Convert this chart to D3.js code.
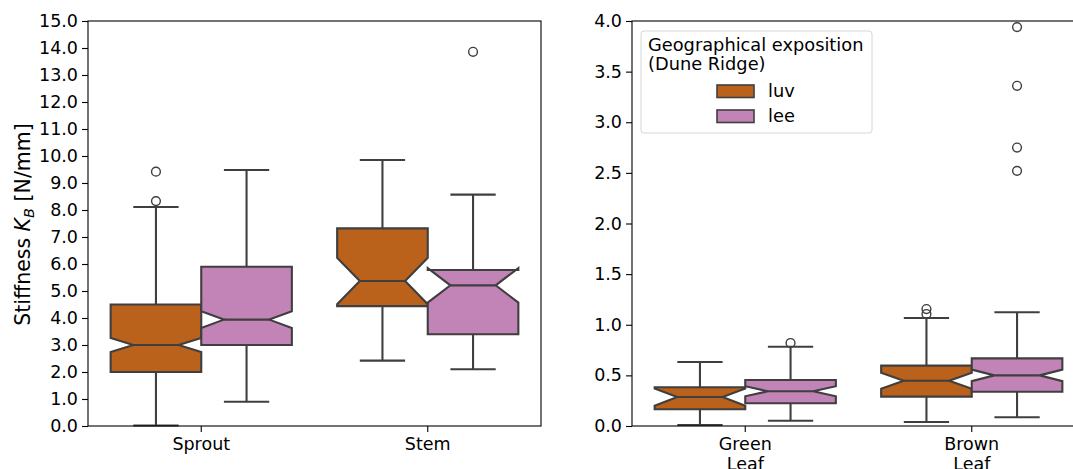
<!DOCTYPE html>
<html>
<head>
<meta charset="utf-8">
<script src="https://cdn.jsdelivr.net/npm/d3@7"></script>
<style>
  html, body { margin: 0; padding: 0; background: #fff; }
  svg { display: block; font-family: "DejaVu Sans", sans-serif; }
</style>
</head>
<body>
<div id="chart"></div>
<script>
"use strict";

/* ── Data ── */
const hues = ["luv", "lee"];
const hueColours = ["#ba611b", "#c283b6"];

// Left panel: Sprout / Stem
const leftCats    = ["Sprout", "Stem"];
const leftQ1      = [[2.00, 3.00], [4.44, 3.40]];
const leftMedian  = [[3.00, 3.94], [5.37, 5.21]];
const leftQ3      = [[4.50, 5.90], [7.32, 5.78]];
const leftNotch   = [[0.26, 0.31], [0.86, 0.64]];   // half notch size
const leftWhLo    = [[0.02, 0.90], [2.42, 2.10]];
const leftWhHi    = [[8.11, 9.48], [9.85, 8.57]];
const leftFliers  = [[[9.42, 8.33], []], [[], [13.86]]];
const leftTicks   = d3.range(0, 15.5, 1);

// Right panel: Green Leaf / Brown Leaf
const rightCats   = ["Green\nLeaf", "Brown\nLeaf"];
const rightQ1     = [[0.165, 0.224], [0.290, 0.339]];
const rightMedian = [[0.286, 0.343], [0.447, 0.500]];
const rightQ3     = [[0.382, 0.454], [0.596, 0.668]];
const rightNotch  = [[0.085, 0.050], [0.080, 0.057]];
const rightWhLo   = [[0.010, 0.052], [0.040, 0.086]];
const rightWhHi   = [[0.632, 0.783], [1.067, 1.123]];
const rightFliers = [[[], [0.82]], [[1.155, 1.106], [3.94, 3.36, 2.75, 2.52]]];
const rightTicks  = d3.range(0, 4.25, 0.5);

/* ── Layout ── */
const W = 1073, H = 469;
const lineCol = "#3f3f3f";
const fontSize = 17.5;

const svg = d3.select("#chart").append("svg")
  .attr("width", W).attr("height", H);

function panel(opts) {
  const { x0, x1, yTop, yBot, yMax, ticks, cats, q1, med, q3, notch, whLo, whHi, fliers } = opts;

  const x = d3.scaleBand().domain(cats).range([x0, x1]).padding(0);
  const xh = d3.scaleBand().domain(hues).range([0.1 * x.bandwidth(), 0.9 * x.bandwidth()]).padding(0);
  const y = d3.scaleLinear().domain([0, yMax]).range([yBot, yTop]);

  const g = svg.append("g");

  /* boxes */
  cats.forEach((c, ci) => {
    hues.forEach((h, hi) => {
      const left = x(c) + xh(h);
      const w = xh.bandwidth();
      const right = left + w;
      const mid = left + w / 2;
      const mL = left + w * 0.25, mR = right - w * 0.25;
      const m = med[ci][hi];
      const nLo = m - notch[ci][hi], nHi = m + notch[ci][hi];

      // whiskers
      g.append("line")
        .attr("x1", mid).attr("x2", mid)
        .attr("y1", y(q1[ci][hi])).attr("y2", y(whLo[ci][hi]))
        .attr("stroke", lineCol).attr("stroke-width", 2.1);
      g.append("line")
        .attr("x1", mid).attr("x2", mid)
        .attr("y1", y(q3[ci][hi])).attr("y2", y(whHi[ci][hi]))
        .attr("stroke", lineCol).attr("stroke-width", 2.1);
      [whLo[ci][hi], whHi[ci][hi]].forEach(v => {
        g.append("line")
          .attr("x1", mL).attr("x2", mR)
          .attr("y1", y(v)).attr("y2", y(v))
          .attr("stroke", lineCol).attr("stroke-width", 2.1);
      });

      // notched box (matplotlib path order)
      const pts = [
        [left, q1[ci][hi]], [right, q1[ci][hi]], [right, nLo], [mR, m], [right, nHi],
        [right, q3[ci][hi]], [left, q3[ci][hi]], [left, nHi], [mL, m], [left, nLo], [left, q1[ci][hi]]
      ];
      g.append("path")
        .attr("d", d3.line().x(p => p[0]).y(p => y(p[1]))(pts) + "Z")
        .attr("fill", hueColours[hi])
        .attr("stroke", lineCol).attr("stroke-width", 2.1)
        .attr("stroke-linejoin", "miter");

      // median
      g.append("line")
        .attr("x1", mL).attr("x2", mR)
        .attr("y1", y(m)).attr("y2", y(m))
        .attr("stroke", lineCol).attr("stroke-width", 2.1);

      // fliers
      g.selectAll(null)
        .data(fliers[ci][hi])
        .join("circle")
        .attr("cx", mid).attr("cy", d => y(d))
        .attr("r", 4.4)
        .attr("fill", "none")
        .attr("stroke", lineCol).attr("stroke-width", 1.4);
    });
  });

  /* spines */
  g.append("rect")
    .attr("x", x0).attr("y", yTop)
    .attr("width", x1 - x0).attr("height", yBot - yTop)
    .attr("fill", "none").attr("stroke", "#000").attr("stroke-width", 1.1);

  /* y axis */
  g.append("g")
    .attr("transform", `translate(${x0},0)`)
    .call(d3.axisLeft(y).tickValues(ticks).tickFormat(d3.format(".1f")).tickSize(6).tickPadding(4))
    .call(a => {
      a.select(".domain").remove();
      a.selectAll(".tick line").attr("stroke", "#000").attr("stroke-width", 1.1);
      a.selectAll(".tick text").attr("fill", "#000")
        .attr("font-size", fontSize + "px").attr("font-family", "DejaVu Sans");
    });

  /* x axis */
  const xa = g.append("g")
    .attr("transform", `translate(0,${yBot})`)
    .call(d3.axisBottom(x).tickSize(6).tickPadding(5).tickFormat(""))
    .call(a => {
      a.select(".domain").remove();
      a.selectAll(".tick line").attr("stroke", "#000").attr("stroke-width", 1.1);
    });
  xa.selectAll(".tick text").remove();
  cats.forEach(c => {
    const t = g.append("text")
      .attr("x", x(c) + x.bandwidth() / 2)
      .attr("y", yBot + 24)
      .attr("text-anchor", "middle")
      .attr("font-size", fontSize + "px")
      .attr("fill", "#000");
    c.split("\n").forEach((line, i) => {
      t.append("tspan")
        .attr("x", x(c) + x.bandwidth() / 2)
        .attr("dy", i === 0 ? 0 : "1.15em")
        .text(line);
    });
  });

  return { x, y, g };
}

panel({
  x0: 88, x1: 541, yTop: 21, yBot: 426, yMax: 15, ticks: leftTicks,
  cats: leftCats, q1: leftQ1, med: leftMedian, q3: leftQ3, notch: leftNotch,
  whLo: leftWhLo, whHi: leftWhHi, fliers: leftFliers
});

panel({
  x0: 632, x1: 1085, yTop: 21, yBot: 426, yMax: 4, ticks: rightTicks,
  cats: rightCats, q1: rightQ1, med: rightMedian, q3: rightQ3, notch: rightNotch,
  whLo: rightWhLo, whHi: rightWhHi, fliers: rightFliers
});

/* ── Y label ── */
const yl = svg.append("text")
  .attr("transform", `translate(30,${(21 + 426) / 2 + 1}) rotate(-90)`)
  .attr("text-anchor", "middle")
  .attr("font-size", "20.5px")
  .attr("fill", "#000");
yl.append("tspan").text("Stiffness ");
yl.append("tspan").attr("font-style", "italic").text("K");
yl.append("tspan").attr("font-style", "italic").attr("font-size", "14.5px").attr("dy", "4").text("B");
yl.append("tspan").attr("dy", "-4").text(" [N/mm]");

/* ── Legend ── */
const lg = svg.append("g");
lg.append("rect")
  .attr("x", 641).attr("y", 31).attr("width", 231).attr("height", 102)
  .attr("rx", 3).attr("ry", 3)
  .attr("fill", "#fff").attr("fill-opacity", 0.8)
  .attr("stroke", "#d6d6d6").attr("stroke-width", 1);
lg.append("text").attr("x", 648).attr("y", 50.5)
  .attr("font-size", "17.8px").attr("fill", "#000").text("Geographical exposition");
lg.append("text").attr("x", 648).attr("y", 70)
  .attr("font-size", "17.8px").attr("fill", "#000").text("(Dune Ridge)");
hues.forEach((h, i) => {
  lg.append("rect")
    .attr("x", 717).attr("y", 85 + i * 25)
    .attr("width", 37).attr("height", 12.5)
    .attr("fill", hueColours[i])
    .attr("stroke", lineCol).attr("stroke-width", 1.6);
  lg.append("text")
    .attr("x", 768).attr("y", 97 + i * 25)
    .attr("font-size", "17.8px").attr("fill", "#000").text(h);
});
</script>
</body>
</html>
